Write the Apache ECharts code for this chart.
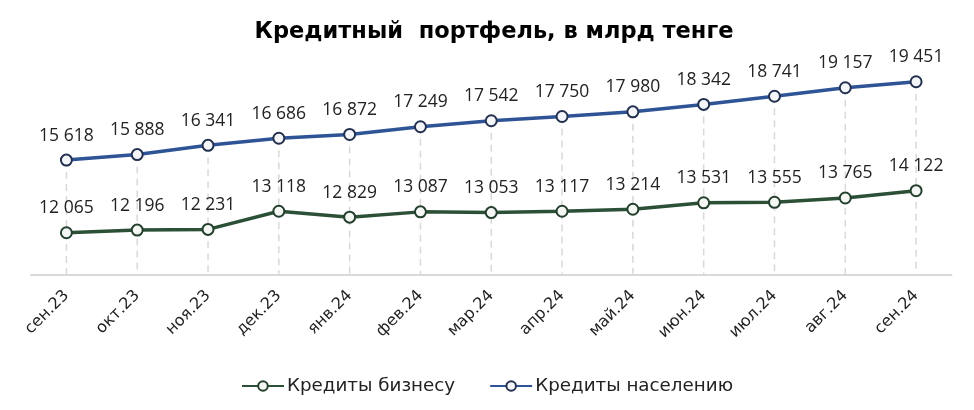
<!DOCTYPE html>
<html>
<head>
<meta charset="utf-8">
<script src="https://cdn.jsdelivr.net/npm/echarts@6/dist/echarts.min.js"></script>
<style>
html,body{margin:0;padding:0;background:#fff;}
#c{width:974px;height:410px;}
</style>
</head>
<body>
<div id="c"></div>
<script>
const categories = ['сен.23','окт.23','ноя.23','дек.23','янв.24','фев.24','мар.24','апр.24','май.24','июн.24','июл.24','авг.24','сен.24'];
const businessLoans = [12065,12196,12231,13118,12829,13087,13053,13117,13214,13531,13555,13765,14122];
const retailLoans = [15618,15888,16341,16686,16872,17249,17542,17750,17980,18342,18741,19157,19451];
const seriesNames = ['Кредиты бизнесу','Кредиты населению'];
const titleText = 'Кредитный  портфель, в млрд тенге';
const yMin = 10000, yMax = 20000;

const FONT = '"Open Sans", sans-serif';
const WIDE = '"DejaVu Sans", sans-serif';
const fmt = v => String(v).replace(/\B(?=(\d{3})+(?!\d))/g, ' ');

const chart = echarts.init(document.getElementById('c'), null, {renderer:'canvas'});
chart.setOption({
  animation:false,
  backgroundColor:'#fff',
  title:{text:titleText,left:489,top:16,textAlign:'center',
    textStyle:{fontFamily:WIDE,fontWeight:'bold',fontSize:22.5,color:'#000'}},
  grid:{left:31,right:22.5,top:70.5,bottom:135},
  legend:{
    data:seriesNames,top:372,left:'center',itemWidth:42,itemHeight:12,itemGap:34,
    textStyle:{fontFamily:WIDE,fontSize:18.3,color:'#222',padding:[0,0,0,-2]}
  },
  xAxis:{type:'category',data:categories,boundaryGap:true,
    axisLine:{lineStyle:{color:'#d9d9d9',width:2}},
    axisTick:{show:false},
    splitLine:{show:false},
    axisLabel:{rotate:45,margin:18,fontFamily:WIDE,fontSize:16,color:'#222',interval:0}
  },
  yAxis:{type:'value',min:yMin,max:yMax,show:false,splitLine:{show:false}},
  series:[
    {
      type:'custom',silent:true,z:1,
      data:retailLoans.map((v,i)=>[i,v]),
      renderItem:(params,api)=>{
        const p1 = api.coord([api.value(0),api.value(1)]);
        const p2 = api.coord([api.value(0),yMin]);
        return {type:'line',shape:{x1:p1[0],y1:p1[1],x2:p2[0],y2:p2[1]},
          style:{stroke:'#d9d9d9',lineWidth:1.5,lineDash:[7,5]}};
      }
    },
    {
      name:seriesNames[0],type:'line',data:businessLoans,z:3,
      symbol:'circle',symbolSize:11,
      lineStyle:{color:'#2b5036',width:3.5},
      itemStyle:{color:'#f4f7f4',borderColor:'#243f2d',borderWidth:2},
      label:{show:true,position:'top',distance:9,formatter:p=>fmt(p.value),
        fontFamily:FONT,fontSize:17.5,color:'#222'}
    },
    {
      name:seriesNames[1],type:'line',data:retailLoans,z:3,
      symbol:'circle',symbolSize:11,
      lineStyle:{color:'#2f5496',width:3.5},
      itemStyle:{color:'#f4f6fa',borderColor:'#23314f',borderWidth:2},
      label:{show:true,position:'top',distance:9,formatter:p=>fmt(p.value),
        fontFamily:FONT,fontSize:17.5,color:'#222'}
    }
  ]
});
</script>
</body>
</html>
